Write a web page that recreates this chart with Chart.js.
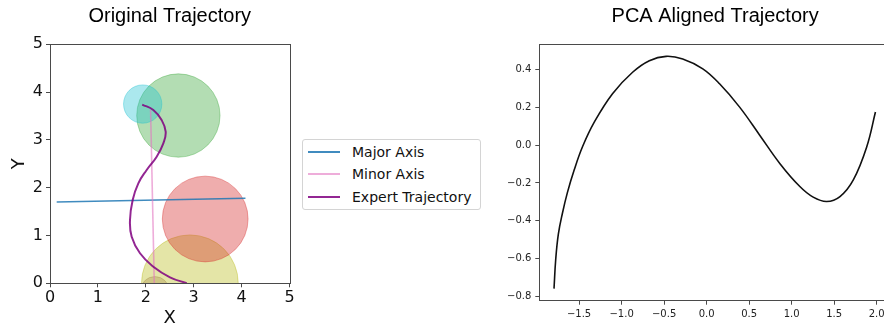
<!DOCTYPE html>
<html>
<head>
<meta charset="utf-8">
<script src="https://cdn.jsdelivr.net/npm/chart.js@4/dist/chart.umd.min.js"></script>
<style>
  html, body { margin: 0; padding: 0; background: #fff; }
  body { width: 884px; height: 329px; overflow: hidden; position: relative; }
  .panel { position: absolute; top: 0; }
  #legend {
    position: absolute; left: 302px; top: 139px; width: 179px; height: 71px;
    border: 1px solid #d4d4d4; border-radius: 3px; box-sizing: border-box;
    font-family: "DejaVu Sans", sans-serif; font-size: 14px; color: #111;
    padding-top: 0.5px;
  }
  #legend .row { display: flex; align-items: center; height: 22.5px; }
  #legend .swatch { width: 32px; height: 2px; margin-left: 5px; margin-right: 12px; }
</style>
</head>
<body>
<div class="panel" style="left:0;width:300px;height:329px"><canvas id="orig" width="300" height="329"></canvas></div>
<div id="legend"></div>
<div class="panel" style="left:490px;width:430px;height:329px"><canvas id="pca" width="430" height="329"></canvas></div>
<script>
// ---- Original trajectory (world frame) ----
const trajX = [1.925, 2.157, 2.33, 2.415, 2.366, 2.227, 2.018, 1.844, 1.726, 1.670, 1.705, 1.879, 2.157, 2.505, 2.854];
const trajY = [3.74, 3.625, 3.416, 3.172, 2.929, 2.649, 2.37, 2.092, 1.743, 1.324, 0.975, 0.628, 0.347, 0.126, 0.0];

// principal axes of the trajectory
const majorX = [0.14, 4.08];
const majorY = [1.70, 1.78];
const minorX = [2.10, 2.18];
const minorY = [3.63, -0.15];

// obstacles: centres and radii in world units
const obstacleX = [1.935, 2.68, 3.24, 2.92, 2.19];
const obstacleY = [3.75, 3.51, 1.345, 0.0, -0.16];
const obstacleR = [0.40, 0.87, 0.895, 1.01, 0.30];

const axisTicks = [0, 1, 2, 3, 4, 5];

// ---- PCA aligned trajectory ----
const pcaX = [-1.795, -1.775, -1.744, -1.696, -1.637, -1.558, -1.46, -1.32, -1.107, -0.871, -0.674, -0.477, -0.281, -0.045, 0.152, 0.388, 0.624, 0.860, 1.096, 1.253, 1.411, 1.568, 1.725, 1.883, 1.985];
const pcaY = [-0.758, -0.604, -0.47, -0.36, -0.25, -0.132, -0.009, 0.122, 0.271, 0.384, 0.445, 0.468, 0.454, 0.402, 0.323, 0.200, 0.052, -0.097, -0.219, -0.275, -0.298, -0.272, -0.184, -0.009, 0.174];
const pcaXTicks = [-1.5, -1.0, -0.5, 0.0, 0.5, 1.0, 1.5, 2.0];
const pcaYTicks = [-0.8, -0.6, -0.4, -0.2, 0.0, 0.2, 0.4];

const obstacleColors = [
  'rgba(23,190,207,0.36)',
  'rgba(44,160,44,0.36)',
  'rgba(214,39,40,0.38)',
  'rgba(188,189,34,0.40)',
  'rgba(140,86,75,0.30)'
];

const zip = (xs, ys) => xs.map((x, i) => ({ x, y: ys[i] }));

// spines on all four sides, drawn above the data like matplotlib
const framePlugin = {
  id: 'frame',
  afterDatasetsDraw(chart) {
    const { ctx, chartArea: a } = chart;
    ctx.save();
    ctx.strokeStyle = '#4a4a4a';
    ctx.lineWidth = 1;
    ctx.strokeRect(Math.round(a.left) + 0.5, Math.round(a.top) + 0.5,
                   Math.round(a.right - a.left), Math.round(a.bottom - a.top));
    ctx.restore();
  }
};

const fixedTicks = (arr) => (scale) => { scale.ticks = arr.map(v => ({ value: v })); };
const mplNum = (d) => (v) => Number(v).toFixed(d).replace('-', '\u2212');

const tickGrid = { display: true, drawOnChartArea: false, drawTicks: true, tickLength: 4, color: '#4a4a4a', lineWidth: 1 };

// circle radius given in world units, converted with the x scale
const worldRadius = (ctx) => {
  const s = ctx.chart.scales.x;
  const r = ctx.raw.size;
  return Math.abs(s.getPixelForValue(r) - s.getPixelForValue(0));
};

const obstacleSets = obstacleX.map((x, i) => ({
  type: 'scatter',
  data: [{ x, y: obstacleY[i], size: obstacleR[i] }],
  pointRadius: worldRadius,
  pointBackgroundColor: obstacleColors[i],
  pointBorderColor: obstacleColors[i],
  pointBorderWidth: 1,
  pointStyle: 'circle',
  clip: 0,
  order: 10
}));

const origChart = new Chart(document.getElementById('orig'), {
  type: 'scatter',
  data: {
    datasets: [
      { label: 'Major Axis', type: 'line', data: zip(majorX, majorY), borderColor: 'rgba(31,119,180,0.85)', borderWidth: 1.6, pointRadius: 0, clip: 0, order: 2 },
      { label: 'Minor Axis', type: 'line', data: zip(minorX, minorY), borderColor: 'rgba(227,119,194,0.6)', borderWidth: 1.6, pointRadius: 0, clip: 0, order: 1 },
      { label: 'Expert Trajectory', type: 'line', data: zip(trajX, trajY), borderColor: 'rgba(128,0,128,0.85)', borderWidth: 2, pointRadius: 0, tension: 0.45, clip: 0, order: 0 },
      ...obstacleSets
    ]
  },
  options: {
    responsive: false,
    animation: false,
    events: [],
    layout: { padding: { left: 0, right: 10.5, top: 0, bottom: 0 } },
    plugins: {
      legend: { display: false },
      tooltip: { enabled: false },
      title: {
        display: true, text: 'Original Trajectory', fullSize: false,
        color: '#000', font: { family: '"Liberation Sans", Arial, sans-serif', size: 20, weight: 'normal' },
        padding: { top: 4.5, bottom: 15.8 }
      }
    },
    scales: {
      x: {
        type: 'linear', min: 0, max: 5,
        afterBuildTicks: fixedTicks(axisTicks),
        afterFit: (s) => { s.height = 45.7; },
        grid: tickGrid, border: { display: false },
        ticks: { color: '#111', padding: 1, font: { family: '"DejaVu Sans"', size: 16 }, maxRotation: 0 },
        title: { display: true, text: 'X', color: '#111', font: { family: '"DejaVu Sans"', size: 18 }, padding: { top: 0, bottom: 0 } }
      },
      y: {
        type: 'linear', min: 0, max: 5,
        afterBuildTicks: fixedTicks(axisTicks),
        afterFit: (s) => { s.width = 50; },
        grid: tickGrid, border: { display: false },
        ticks: { color: '#111', padding: 3, font: { family: '"DejaVu Sans"', size: 16 } },
        title: { display: true, text: 'Y', color: '#111', font: { family: '"DejaVu Sans"', size: 18 }, padding: { top: 9, bottom: 0 } }
      }
    }
  },
  plugins: [framePlugin]
});

// legend built from the labelled datasets
const legendBox = document.getElementById('legend');
origChart.data.datasets.filter(d => d.label).forEach(d => {
  const row = document.createElement('div');
  row.className = 'row';
  const sw = document.createElement('span');
  sw.className = 'swatch';
  sw.style.background = d.borderColor;
  const tx = document.createElement('span');
  tx.textContent = d.label;
  row.appendChild(sw);
  row.appendChild(tx);
  legendBox.appendChild(row);
});

new Chart(document.getElementById('pca'), {
  type: 'line',
  data: {
    datasets: [{
      data: zip(pcaX, pcaY),
      borderColor: '#111',
      borderWidth: 1.6,
      pointRadius: 0,
      tension: 0.4,
      fill: false
    }]
  },
  options: {
    responsive: false,
    animation: false,
    events: [],
    layout: { padding: { left: 0, right: 29, top: 0, bottom: 0 } },
    plugins: {
      legend: { display: false },
      tooltip: { enabled: false },
      title: {
        display: true, text: 'PCA Aligned Trajectory', fullSize: false,
        color: '#000', font: { family: '"Liberation Sans", Arial, sans-serif', size: 20, weight: 'normal' },
        padding: { top: 4.5, bottom: 15.8 }
      }
    },
    scales: {
      x: {
        type: 'linear', min: -1.968, max: 2.168,
        afterBuildTicks: fixedTicks(pcaXTicks),
        afterFit: (s) => { s.height = 28.3; },
        grid: tickGrid, border: { display: false },
        ticks: { color: '#222', padding: 4, font: { family: '"DejaVu Sans"', size: 10 }, maxRotation: 0, autoSkip: false, callback: mplNum(1) }
      },
      y: {
        type: 'linear', min: -0.8215, max: 0.5315,
        afterBuildTicks: fixedTicks(pcaYTicks),
        afterFit: (s) => { s.width = 49.3; },
        grid: tickGrid, border: { display: false },
        ticks: { color: '#222', padding: 4, font: { family: '"DejaVu Sans"', size: 10 }, autoSkip: false, callback: mplNum(1) }
      }
    }
  },
  plugins: [framePlugin]
});
</script>
</body>
</html>
